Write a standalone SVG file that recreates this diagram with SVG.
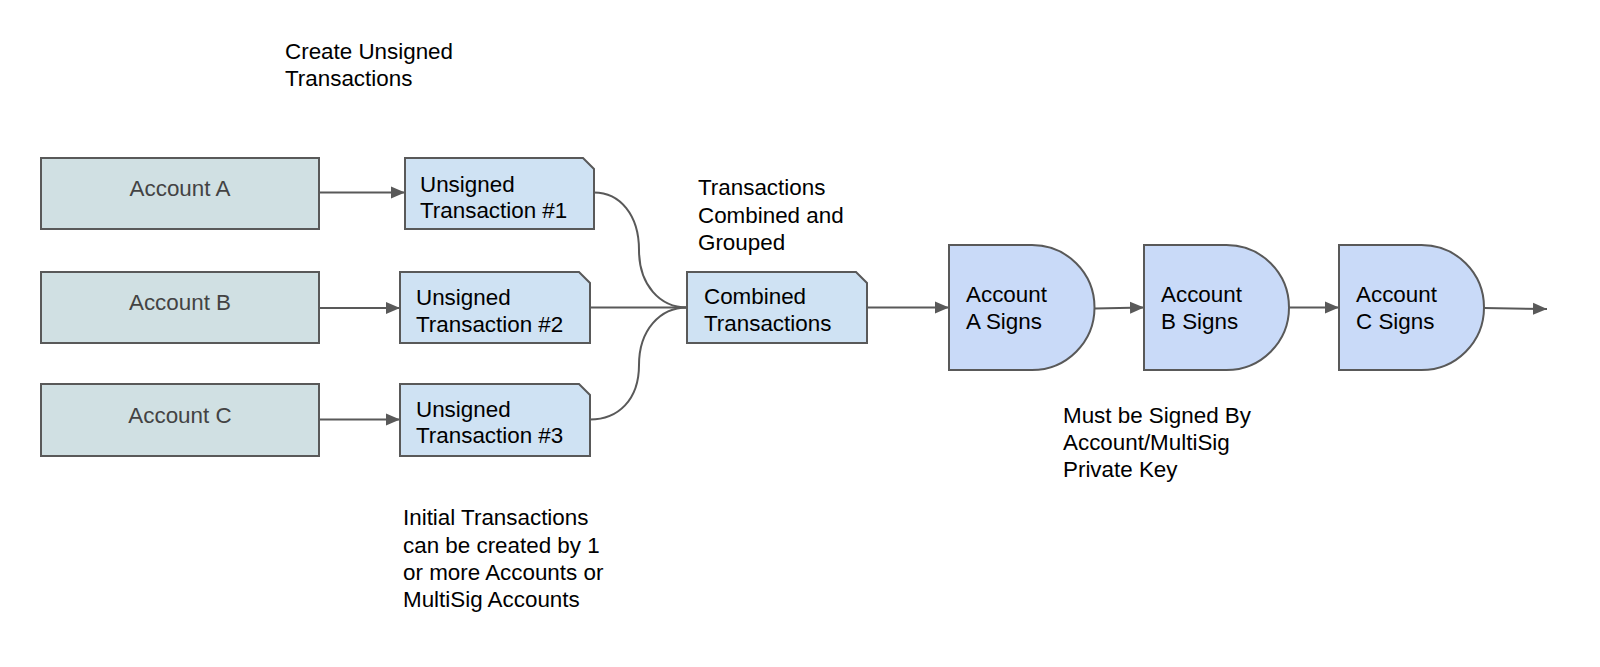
<svg xmlns="http://www.w3.org/2000/svg" width="1600" height="667" viewBox="0 0 1600 667">
<defs>
<style>
text{font-family:"Liberation Sans",Arial,sans-serif;font-size:22.4px;fill:#000}
.acct{fill:#d0e0e3;stroke:#595959;stroke-width:2}
.acct-t{fill:#434343;text-anchor:middle}
.doc{fill:#cfe2f3;stroke:#595959;stroke-width:2}
.sig{fill:#c9daf8;stroke:#595959;stroke-width:2}
.con{fill:none;stroke:#595959;stroke-width:2}
</style>
<marker id="ah" markerUnits="userSpaceOnUse" markerWidth="15" markerHeight="13" refX="14" refY="6.5" orient="auto">
<path d="M0,0.5 L14,6.5 L0,12.5 Z" fill="#595959"/>
</marker>
</defs>
<rect width="1600" height="667" fill="#fff"/>

<g id="connectors">
<path class="con" d="M319,192.5 H405" marker-end="url(#ah)"/>
<path class="con" d="M319,308 H400" marker-end="url(#ah)"/>
<path class="con" d="M319,419.5 H400" marker-end="url(#ah)"/>
<path class="con" d="M594,192.5 C620,192.5 639,215 639,250 C639,285 660,307.5 687,307.5"/>
<path class="con" d="M590,307.5 H687"/>
<path class="con" d="M590,419.5 C618,419.5 639,400 639,365 C639,330 660,307.5 687,307.5"/>
<path class="con" d="M867,307.5 H949" marker-end="url(#ah)"/>
<path class="con" d="M1094.5,308.5 L1144,307.5" marker-end="url(#ah)"/>
<path class="con" d="M1289,307.5 H1339" marker-end="url(#ah)"/>
<path class="con" d="M1484,308 L1547,309" marker-end="url(#ah)"/>
</g>

<g id="accountA"><rect class="acct" x="41" y="158" width="278" height="71"/><text class="acct-t" x="180" y="196">Account A</text></g>
<g id="accountB"><rect class="acct" x="41" y="272" width="278" height="71"/><text class="acct-t" x="180" y="310">Account B</text></g>
<g id="accountC"><rect class="acct" x="41" y="384" width="278" height="72"/><text class="acct-t" x="180" y="423">Account C</text></g>

<g id="unsigned1"><path class="doc" d="M405,158 H583 L594,169 V229 H405 Z"/><text x="420" y="191.5">Unsigned</text><text x="420" y="218">Transaction #1</text></g>
<g id="unsigned2"><path class="doc" d="M400,272 H579 L590,283 V343 H400 Z"/><text x="416" y="305">Unsigned</text><text x="416" y="331.5">Transaction #2</text></g>
<g id="unsigned3"><path class="doc" d="M400,384 H579 L590,395 V456 H400 Z"/><text x="416" y="416.5">Unsigned</text><text x="416" y="443">Transaction #3</text></g>

<g id="combined"><path class="doc" d="M687,272 H856 L867,283 V343 H687 Z"/><text x="704" y="304">Combined</text><text x="704" y="330.5">Transactions</text></g>

<g id="signA"><path class="sig" d="M949,245 H1032 A62.5,62.5 0 0 1 1032,370 H949 Z"/><text x="966" y="302">Account</text><text x="966" y="328.5">A Signs</text></g>
<g id="signB"><path class="sig" d="M1144,245 H1226.5 A62.5,62.5 0 0 1 1226.5,370 H1144 Z"/><text x="1161" y="302">Account</text><text x="1161" y="328.5">B Signs</text></g>
<g id="signC"><path class="sig" d="M1339,245 H1421.5 A62.5,62.5 0 0 1 1421.5,370 H1339 Z"/><text x="1356" y="302">Account</text><text x="1356" y="328.5">C Signs</text></g>

<g id="label-create"><text x="285" y="59">Create Unsigned</text><text x="285" y="85.5">Transactions</text></g>
<g id="label-combined"><text x="698" y="195">Transactions</text><text x="698" y="222.5">Combined and</text><text x="698" y="249.5">Grouped</text></g>
<g id="label-initial"><text x="403" y="525">Initial Transactions</text><text x="403" y="552.5">can be created by 1</text><text x="403" y="579.5">or more Accounts or</text><text x="403" y="606.5">MultiSig Accounts</text></g>
<g id="label-signed"><text x="1063" y="423">Must be Signed By</text><text x="1063" y="450">Account/MultiSig</text><text x="1063" y="476.5">Private Key</text></g>
</svg>
